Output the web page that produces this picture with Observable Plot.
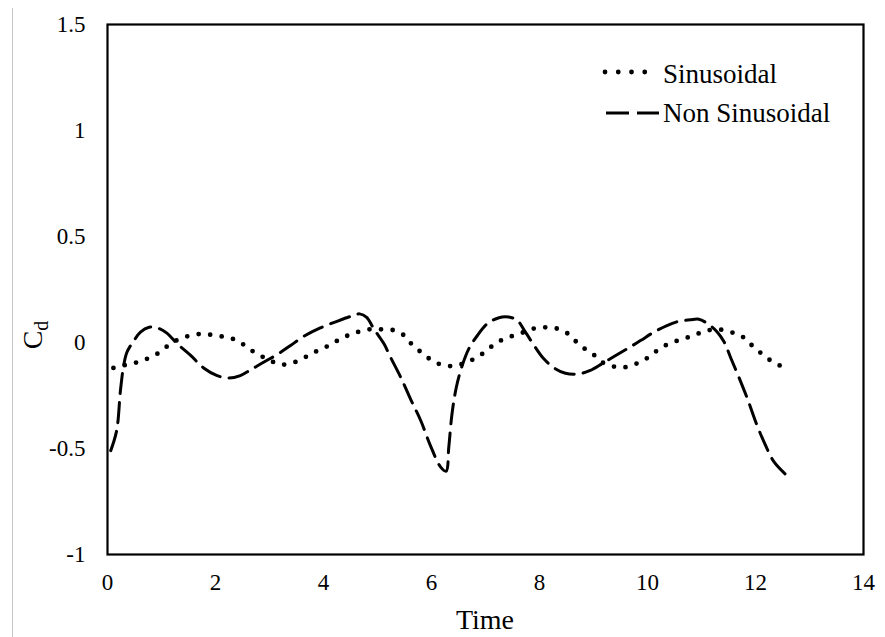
<!DOCTYPE html>
<html>
<head>
<meta charset="utf-8">
<script src="https://cdn.jsdelivr.net/npm/d3@7"></script>
<script src="https://cdn.jsdelivr.net/npm/@observablehq/plot@0.6"></script>
<style>
  html, body { margin: 0; padding: 0; background: #fff; }
  #wrap { position: relative; width: 885px; height: 637px; }
  #edge { position: absolute; left: 12px; top: 8px; width: 1px; height: 629px; background: #c8c8c8; }
</style>
</head>
<body>
<div id="wrap"><div id="edge"></div></div>
<script>
// ---- data ----
const xTicks = [0, 2, 4, 6, 8, 10, 12, 14];
const xTickLabels = ["0", "2", "4", "6", "8", "10", "12", "14"];
const yTicks = [-1, -0.5, 0, 0.5, 1, 1.5];
const yTickLabels = ["-1", "-0.5", "0", "0.5", "1", "1.5"];
const seriesNames = ["Sinusoidal", "Non Sinusoidal"];

const sinT = [0.11,0.32,0.55,0.75,0.96,1.14,1.33,1.54,1.77,1.99,2.22,2.43,2.61,2.80,3.01,3.21,3.43,3.64,3.83,4.04,4.23,4.44,4.64,4.88,5.09,5.31,5.51,5.65,5.83,6.01,6.22,6.44,6.65,6.86,7.04,7.22,7.42,7.64,7.85,8.07,8.29,8.50,8.67,8.84,9.02,9.18,9.41,9.63,9.85,10.04,10.22,10.42,10.64,10.86,11.07,11.30,11.53,11.74,11.91,12.09,12.28,12.47];
const sinV = [-0.12,-0.107,-0.093,-0.075,-0.047,-0.011,0.016,0.033,0.041,0.033,0.024,0.006,-0.028,-0.057,-0.085,-0.104,-0.096,-0.072,-0.046,-0.022,0.005,0.032,0.05,0.063,0.062,0.057,0.030,-0.013,-0.050,-0.085,-0.107,-0.11,-0.093,-0.068,-0.033,0.001,0.024,0.042,0.063,0.071,0.068,0.046,0.006,-0.030,-0.061,-0.096,-0.115,-0.115,-0.093,-0.066,-0.030,-0.003,0.015,0.034,0.054,0.062,0.050,0.031,-0.008,-0.048,-0.085,-0.111];

const nsT = [0.06,0.17,0.24,0.30,0.36,0.49,0.61,0.77,0.92,1.10,1.29,1.54,1.78,2.03,2.25,2.46,2.65,2.89,3.14,3.39,3.64,3.94,4.25,4.50,4.67,4.80,4.93,5.12,5.24,5.43,5.61,5.80,5.98,6.17,6.27,6.32,6.38,6.46,6.57,6.69,6.85,7.03,7.25,7.43,7.59,7.74,7.90,8.08,8.27,8.48,8.73,8.94,9.16,9.38,9.62,9.87,10.12,10.36,10.58,10.79,10.95,11.10,11.29,11.42,11.55,11.71,11.86,12.02,12.18,12.34,12.55];
const nsV = [-0.51,-0.415,-0.226,-0.108,-0.046,0.009,0.049,0.072,0.069,0.044,-0.006,-0.061,-0.12,-0.156,-0.168,-0.156,-0.129,-0.093,-0.057,-0.014,0.030,0.069,0.10,0.123,0.135,0.119,0.065,-0.006,-0.069,-0.164,-0.266,-0.368,-0.486,-0.588,-0.607,-0.494,-0.336,-0.211,-0.108,-0.03,0.033,0.088,0.117,0.12,0.104,0.049,-0.014,-0.077,-0.12,-0.145,-0.148,-0.132,-0.10,-0.066,-0.030,0.009,0.049,0.08,0.10,0.107,0.11,0.091,0.050,0.002,-0.078,-0.175,-0.272,-0.385,-0.482,-0.562,-0.62];

// ---- tables ----
const sinRows = sinT.map((t, i) => ({time: t, cd: sinV[i]}));
const nsRows = nsT.map((t, i) => ({time: t, cd: nsV[i]}));

const FONT = "Liberation Serif";

const chart = Plot.plot({
  width: 885,
  height: 637,
  marginLeft: 107,
  marginRight: 22,
  marginTop: 24,
  marginBottom: 83,
  style: {fontFamily: FONT, fontSize: "23px", color: "#000", background: "transparent"},
  x: {domain: [0, 14]},
  y: {domain: [-1, 1.5]},
  marks: [
    Plot.axisX(xTicks, {tickSize: 0, tickPadding: 19, label: null, fontSize: 23,
      tickFormat: d => xTickLabels[xTicks.indexOf(d)]}),
    Plot.axisY(yTicks, {tickSize: 0, tickPadding: 22, label: null, fontSize: 23,
      tickFormat: d => yTickLabels[yTicks.indexOf(d)]}),
    Plot.line(nsRows, {x: "time", y: "cd", curve: "catmull-rom", stroke: "black",
      strokeWidth: 3, strokeDasharray: "20 9"}),
    Plot.line(sinRows, {x: "time", y: "cd", curve: "catmull-rom", stroke: "black",
      strokeWidth: 4.8, strokeDasharray: "0 11.6", strokeLinecap: "round"}),
    Plot.frame({stroke: "black", strokeWidth: 2.2})
  ]
});

chart.style.position = "absolute";
chart.style.left = "0px";
chart.style.top = "0px";
document.getElementById("wrap").appendChild(chart);

const svg = d3.select(chart);

// axis titles
svg.append("text")
  .attr("x", 485).attr("y", 629)
  .attr("text-anchor", "middle")
  .attr("font-family", FONT).attr("font-size", 28).attr("fill", "#000")
  .text("Time");

const yl = svg.append("text")
  .attr("transform", "translate(42,335) rotate(-90)")
  .attr("text-anchor", "middle")
  .attr("font-family", FONT).attr("font-size", 28).attr("fill", "#000");
yl.append("tspan").text("C");
yl.append("tspan").attr("font-size", 20).attr("dy", 6).text("d");

// legend
const lg = svg.append("g").attr("text-anchor", "start");
lg.append("line").attr("x1", 605).attr("x2", 658).attr("y1", 72).attr("y2", 72)
  .attr("stroke", "black").attr("stroke-width", 4.8)
  .attr("stroke-linecap", "round").attr("stroke-dasharray", "0 13.25");
lg.append("text").attr("x", 663).attr("y", 83).attr("text-anchor", "start")
  .attr("font-family", FONT).attr("font-size", 27).attr("fill", "#000")
  .text(seriesNames[0]);
lg.append("line").attr("x1", 606).attr("x2", 659).attr("y1", 113).attr("y2", 113)
  .attr("stroke", "black").attr("stroke-width", 3)
  .attr("stroke-dasharray", "23 8");
lg.append("text").attr("x", 663).attr("y", 122).attr("text-anchor", "start")
  .attr("font-family", FONT).attr("font-size", 27).attr("fill", "#000")
  .text(seriesNames[1]);
</script>
</body>
</html>
